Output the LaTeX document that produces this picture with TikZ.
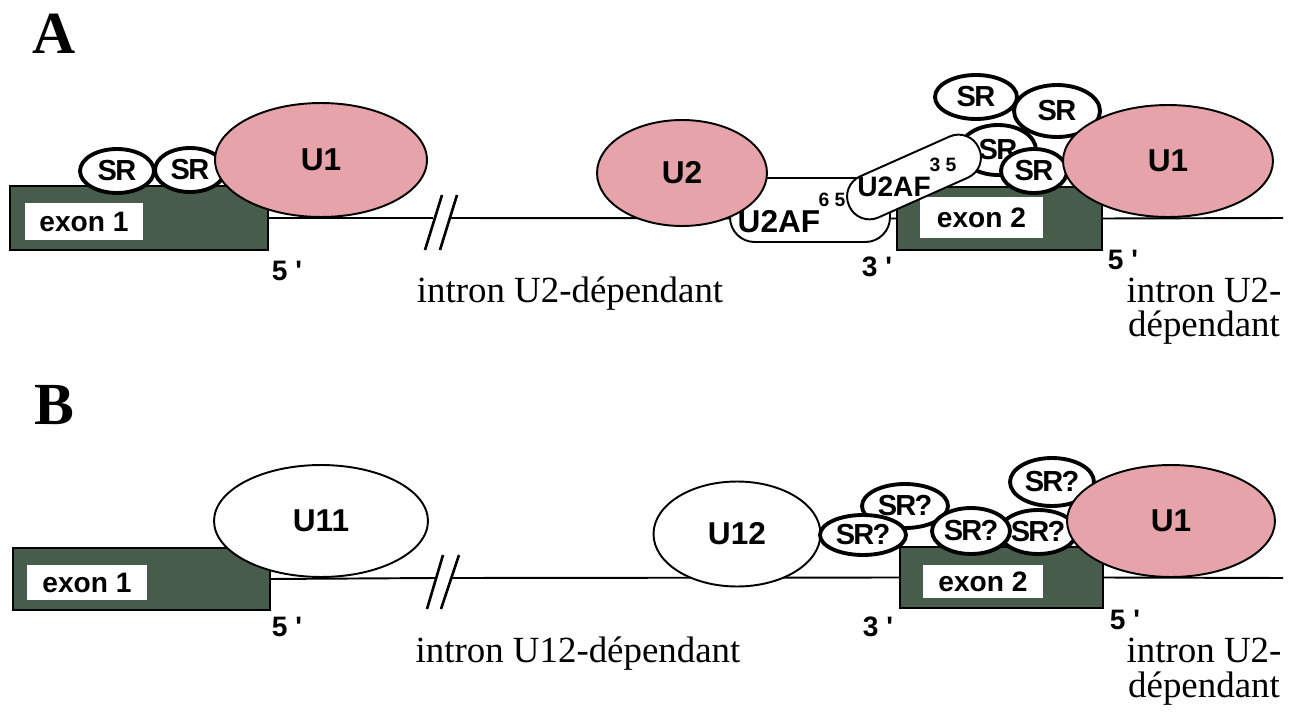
\documentclass[tikz,border=0pt]{standalone}
\usepackage{fontspec}
\setmainfont{Liberation Serif}
\setsansfont{Liberation Sans}
\usetikzlibrary{shapes.geometric}
\definecolor{snpink}{RGB}{230,163,170}
\definecolor{exongreen}{RGB}{72,92,76}

\begin{document}
\begin{tikzpicture}[x=0.02cm, y=-0.02cm,
        every node/.style={inner sep=0pt},
        strand/.style={line width=1.1pt},
        cut/.style={line width=1.5pt},
        exon/.style={draw=black, line width=0.8pt, fill=exongreen},
        exonlabel/.style={fill=white, font=\sffamily\bfseries\fontsize{16}{16}\selectfont},
        snrnp/.style={ellipse, draw, line width=1.1pt, fill=snpink, font=\sffamily\bfseries\fontsize{18}{18}\selectfont},
        sr/.style={ellipse, draw, line width=2.2pt, fill=white,
          font=\sffamily\bfseries\fontsize{16.5}{16}\selectfont\addfontfeature{LetterSpace=-6}},
        u2af/.style={draw, line width=1.1pt, fill=white},
        ss/.style={font=\sffamily\bfseries\fontsize{16}{16}\selectfont},
        intron/.style={font=\fontsize{21}{20}\selectfont},
        panel/.style={font=\bfseries\fontsize{34}{34}\selectfont}]
        \useasboundingbox (0,0) rectangle (1296,713);

        % panel A
        \node[panel] (panelA) at (54,34) {A};
        \node[exon, minimum width=5.16cm, minimum height=1.28cm] (exonA1) at (139,218) {};
        \node[exon, minimum width=4.10cm, minimum height=1.26cm] (exonA2) at (999.5,218.5) {};
        \node[exonlabel, minimum width=2.36cm, minimum height=0.74cm] (labA1) at (84,221.5) {exon 1};
        \node[exonlabel, minimum width=2.46cm, minimum height=0.82cm] (labA2) at (981.5,217.5) {exon 2};
        \coordinate (brkA1) at (433,218);
        \coordinate (brkA2) at (450,218);
        \coordinate (endA) at (1283,218);
        \draw[strand] (exonA1.east) -- (brkA1);
        \draw[strand] (brkA2) -- (exonA2.west);
        \draw[strand] (exonA2.east) -- (endA);
        \draw[cut] (425,250) -- (442,195);
        \draw[cut] (440,250) -- (457,195);

        \foreach \n/\x/\y/\w/\h in {1/117/171/1.48cm/0.88cm, 2/190/170/1.40cm/0.88cm}
          \node[sr, minimum width=\w, minimum height=\h] (srA\n) at (\x,\y) {SR};
        \node[snrnp, minimum width=4.24cm, minimum height=2.28cm] (uoneA1) at (321,160) {U1};

        \foreach \n/\x/\y/\w/\h in {4/1057/111/1.72cm/1.04cm, 3/976/97/1.64cm/0.88cm, 5/998/150/1.52cm/1.00cm}
          \node[sr, minimum width=\w, minimum height=\h] (srA\n) at (\x,\y) {SR};
        \node[u2af, rounded corners=14pt, minimum width=3.20cm, minimum height=1.28cm] (uafsf) at (810,210) {};
        \node[font=\sffamily\bfseries\fontsize{18}{18}\selectfont] (uafsfText) at (779,222) {U2AF};
        \node[font=\sffamily\bfseries\fontsize{11}{11}\selectfont] (uafsfSup) at (832,200) {6 5};
        \node[snrnp, minimum width=3.40cm, minimum height=2.12cm] (utwo) at (682,173) {U2};
        \node[u2af, rounded corners=0.44cm, minimum width=2.84cm, minimum height=0.90cm, rotate=24] (uaftf) at (914,177) {};
        \node[font=\sffamily\bfseries\fontsize{16}{16}\selectfont] (uaftfText) at (894,187) {U2AF};
        \node[font=\sffamily\bfseries\fontsize{11}{11}\selectfont] (uaftfSup) at (943,165) {3 5};
        \node[sr, minimum width=1.32cm, minimum height=0.88cm] (srA6) at (1034,171) {SR};
        \node[snrnp, minimum width=4.20cm, minimum height=2.24cm] (uoneA2) at (1168,161) {U1};

        \node[ss] (fiveA1) at (287,271) {5 \textquotesingle};
        \node[ss] (threeA) at (877,267) {3 \textquotesingle};
        \node[ss] (fiveA2) at (1123,260) {5 \textquotesingle};
        \node[intron, anchor=base] (intronA1) at (570,302) {intron U2-dépendant};
        \node[intron, anchor=base] (intronA2) at (1204,302) {intron U2-};
        \node[intron, anchor=base] (intronA3) at (1204,337) {dépendant};

        % panel B
        \node[panel] (panelB) at (54,405) {B};
        \node[exon, minimum width=5.14cm, minimum height=1.24cm] (exonB1) at (141.5,579) {};
        \node[exon, minimum width=4.06cm, minimum height=1.22cm] (exonB2) at (1001.5,577.5) {};
        \node[exonlabel, minimum width=2.40cm, minimum height=0.70cm] (labB1) at (87,582.5) {exon 1};
        \node[exonlabel, minimum width=2.40cm, minimum height=0.66cm] (labB2) at (983,581.5) {exon 2};
        \coordinate (brkB1) at (435,578);
        \coordinate (brkB2) at (452,578);
        \coordinate (endB) at (1283,578);
        \draw[strand] (exonB1.east) -- (brkB1);
        \draw[strand] (brkB2) -- (exonB2.west);
        \draw[strand] (exonB2.east) -- (endB);
        \draw[cut] (427,609) -- (443,555);
        \draw[cut] (441,609) -- (459,555);

        \node[snrnp, fill=white, minimum width=4.28cm, minimum height=2.24cm] (uelevenB) at (321,521) {U11};
        \node[snrnp, fill=white, minimum width=3.34cm, minimum height=2.10cm] (utwelveB) at (737,534) {U12};
        \foreach \n/\x/\y/\w/\h in {5/1052/482/1.68cm/0.96cm, 2/905/506/1.72cm/0.88cm, 1/863/535/1.72cm/0.80cm,
                                    4/1038/532/1.28cm/0.88cm, 3/971/531/1.56cm/0.92cm}
          \node[sr, minimum width=\w, minimum height=\h] (srB\n) at (\x,\y) {SR?};
        \node[snrnp, minimum width=4.16cm, minimum height=2.24cm] (uoneB) at (1171,521) {U1};

        \node[ss] (fiveB1) at (287,627) {5 \textquotesingle};
        \node[ss] (threeB) at (878,627) {3 \textquotesingle};
        \node[ss] (fiveB2) at (1125,620) {5 \textquotesingle};
        \node[intron, anchor=base] (intronB1) at (578,662) {intron U12-dépendant};
        \node[intron, anchor=base] (intronB2) at (1204,662) {intron U2-};
        \node[intron, anchor=base] (intronB3) at (1204,697) {dépendant};
      \end{tikzpicture}
\end{document}
